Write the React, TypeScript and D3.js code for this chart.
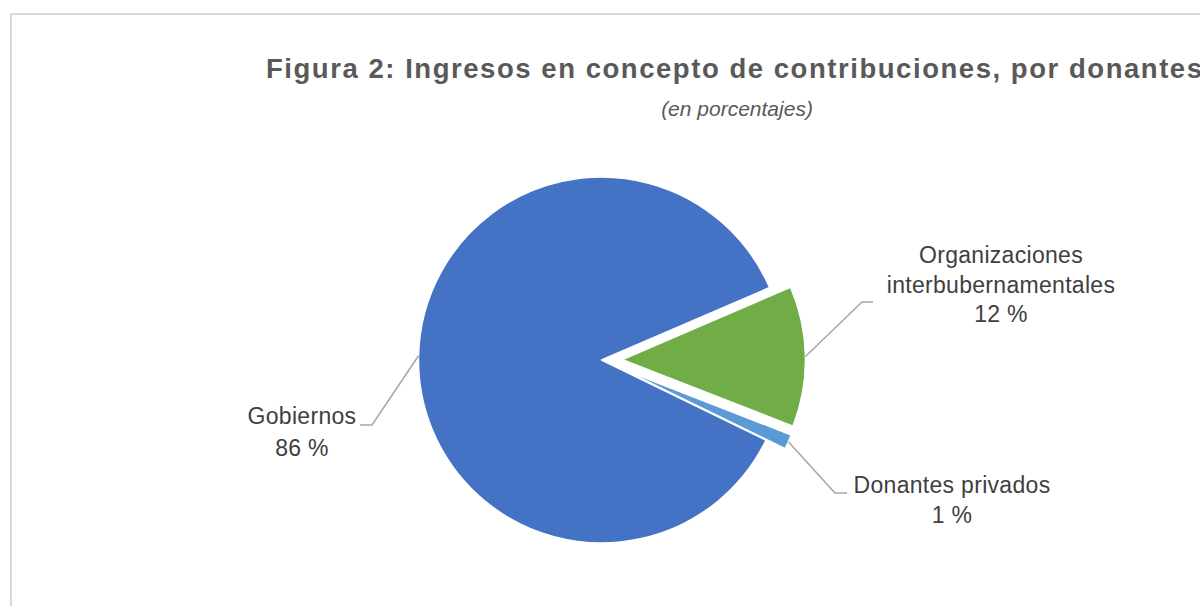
import React from 'react';
import * as d3 from 'd3';

const categories = ['Gobiernos', 'Organizaciones interbubernamentales', 'Donantes privados'];
const values = [86.3, 12.4, 1.3];
const valueLabels = ['86 %', '12 %', '1 %'];
const labelLines = [['Gobiernos'], ['Organizaciones', 'interbubernamentales'], ['Donantes privados']];
const colors = ['#4472C4', '#70AD47', '#5B9BD5'];
const explodeOffsets = [0, 21, 21];

const titleText = 'Figura 2: Ingresos en concepto de contribuciones, por donantes';
const subtitleText = '(en porcentajes)';

const W = 1200;
const H = 606;
const cx = 601.5;
const cy = 360;
const R = 183;
const FONT = '"Liberation Sans", Arial, Helvetica, sans-serif';

// label layout (positions only)
const labelLayout = [
  { x: 302, y: 424, lh: 32, elbow: [372, 425], end: [360, 425] },
  { x: 1001, y: 263, lh: 29.5, elbow: [862, 302], end: [873, 302] },
  { x: 952, y: 493, lh: 30, elbow: [835, 493], end: [847, 493] },
];

export default function App() {
  const data = categories.map((c, i) => ({ c, v: values[i], i }));
  const pie = d3
    .pie<any>()
    .value((d) => d.v)
    .sort(null)
    .startAngle((116 * Math.PI) / 180)
    .endAngle((476 * Math.PI) / 180);
  const arcs = pie(data);
  const arc = d3.arc<any>().innerRadius(0).outerRadius(R);

  return (
    <svg width={W} height={H} style={{ position: 'absolute', left: 0, top: 0 }} fontFamily={FONT}>
      <rect x={0} y={0} width={W} height={H} fill="#fff" />
      <rect x={11} y={14} width={1400} height={800} fill="#fff" stroke="#d9d9d9" strokeWidth={2} />
      <text
        x={266}
        y={78}
        textAnchor="start"
        fontSize={27.5}
        fontWeight="bold"
        fill="#595959"
        textLength={936}
        lengthAdjust="spacing"
      >
        {titleText}
      </text>
      <text x={737} y={116} textAnchor="middle" fontSize={21} fontStyle="italic" fill="#595959">
        {subtitleText}
      </text>
      <g>
        {arcs.map((a, i) => {
          const mid = (a.startAngle + a.endAngle) / 2;
          const off = explodeOffsets[i];
          const ox = cx + off * Math.sin(mid);
          const oy = cy - off * Math.cos(mid);
          return (
            <path
              key={i}
              d={arc(a) as string}
              transform={`translate(${ox},${oy})`}
              fill={colors[i]}
              stroke="#fff"
              strokeWidth={1.5}
              strokeLinejoin="round"
            />
          );
        })}
      </g>
      <g>
        {arcs.map((a, i) => {
          const mid = (a.startAngle + a.endAngle) / 2;
          const off = explodeOffsets[i] + R;
          const sx = cx + off * Math.sin(mid);
          const sy = cy - off * Math.cos(mid);
          const L = labelLayout[i];
          return (
            <polyline
              key={i}
              points={`${sx},${sy} ${L.elbow[0]},${L.elbow[1]} ${L.end[0]},${L.end[1]}`}
              fill="none"
              stroke="#a6a6a6"
              strokeWidth={1.5}
            />
          );
        })}
      </g>
      <g>
        {labelLines.map((lines, i) => {
          const L = labelLayout[i];
          const all = [...lines, valueLabels[i]];
          return (
            <text key={i} textAnchor="middle" fontSize={23} fill="#404040" letterSpacing={0.3}>
              {all.map((t, j) => (
                <tspan key={j} x={L.x} y={L.y + j * L.lh}>
                  {t}
                </tspan>
              ))}
            </text>
          );
        })}
      </g>
    </svg>
  );
}
